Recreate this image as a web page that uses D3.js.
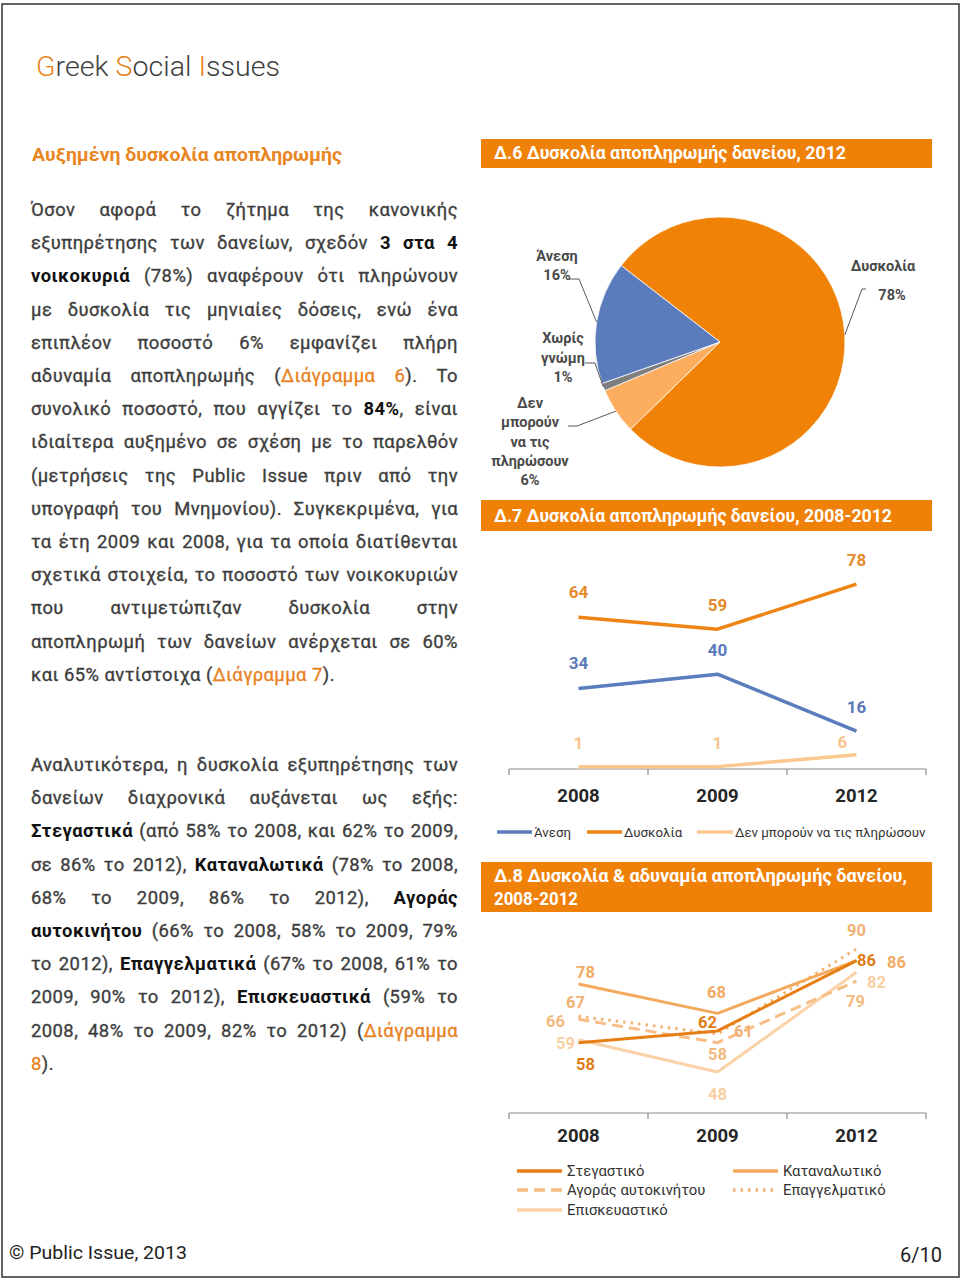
<!DOCTYPE html>
<html><head><meta charset="utf-8">
<script src="https://cdn.jsdelivr.net/npm/d3@7"></script>
<style>
body{margin:0;background:#fff}
svg{display:block}
text{font-family:Roboto,"Open Sans","Noto Sans",sans-serif}
</style>
</head><body>
<svg id="page" width="960" height="1280"></svg>
<script>
// ---------------- DATA ----------------
const pieCategories = ["Δυσκολία", "Δεν μπορούν να τις πληρώσουν", "Χωρίς γνώμη", "Άνεση"];
const pieValues = [78, 6, 1, 16];
const pieLabelLines = [["Δυσκολία", "78%"], ["Δεν", "μπορούν", "να τις", "πληρώσουν", "6%"], ["Χωρίς", "γνώμη", "1%"], ["Άνεση", "16%"]];

const years = ["2008", "2009", "2012"];
const d7Series = ["Άνεση", "Δυσκολία", "Δεν μπορούν να τις πληρώσουν"];
const d7Anesi = [34, 40, 16];
const d7Dyskolia = [64, 59, 78];
const d7DenMporoun = [1, 1, 6];

const d8Series = ["Στεγαστικό", "Καταναλωτικό", "Αγοράς αυτοκινήτου", "Επαγγελματικό", "Επισκευαστικό"];
const d8Stegastiko = [58, 62, 86];
const d8Katanalotiko = [78, 68, 86];
const d8Agoras = [66, 58, 79];
const d8Epaggelmatiko = [67, 61, 90];
const d8Episkevastiko = [59, 48, 82];

const pageTitle = ["G", "reek ", "S", "ocial ", "I", "ssues"];
const sectionTitle = "Αυξημένη δυσκολία αποπληρωμής";
const chartTitles = ["Δ.6 Δυσκολία αποπληρωμής δανείου, 2012", "Δ.7 Δυσκολία αποπληρωμής δανείου, 2008-2012", "Δ.8 Δυσκολία & αδυναμία αποπληρωμής δανείου,", "2008-2012"];
const footerLeft = "© Public Issue, 2013";
const footerRight = "6/10";

// body text (*bold*, ~orange~), second item: 1 = justified
const para1 = [
  ["Όσον αφορά το ζήτημα της κανονικής", 1],
  ["εξυπηρέτησης των δανείων, σχεδόν *3 στα 4*", 1],
  ["*νοικοκυριά* (78%) αναφέρουν ότι πληρώνουν", 1],
  ["με δυσκολία τις μηνιαίες δόσεις, ενώ ένα", 1],
  ["επιπλέον ποσοστό 6% εμφανίζει πλήρη", 1],
  ["αδυναμία αποπληρωμής (~Διάγραμμα 6~). Το", 1],
  ["συνολικό ποσοστό, που αγγίζει το *84%*, είναι", 1],
  ["ιδιαίτερα αυξημένο σε σχέση με το παρελθόν", 1],
  ["(μετρήσεις της Public Issue πριν από την", 1],
  ["υπογραφή του Μνημονίου). Συγκεκριμένα, για", 1],
  ["τα έτη 2009 και 2008, για τα οποία διατίθενται", 1],
  ["σχετικά στοιχεία, το ποσοστό των νοικοκυριών", 1],
  ["που αντιμετώπιζαν δυσκολία στην", 1],
  ["αποπληρωμή των δανείων ανέρχεται σε 60%", 1],
  ["και 65% αντίστοιχα (~Διάγραμμα 7~).", 0]
];
const para2 = [
  ["Αναλυτικότερα, η δυσκολία εξυπηρέτησης των", 1],
  ["δανείων διαχρονικά αυξάνεται ως εξής:", 1],
  ["*Στεγαστικά* (από 58% το 2008, και 62% το 2009,", 1],
  ["σε 86% το 2012), *Καταναλωτικά* (78% το 2008,", 1],
  ["68% το 2009, 86% το 2012), *Αγοράς*", 1],
  ["*αυτοκινήτου* (66% το 2008, 58% το 2009, 79%", 1],
  ["το 2012), *Επαγγελματικά* (67% το 2008, 61% το", 1],
  ["2009, 90% το 2012), *Επισκευαστικά* (59% το", 1],
  ["2008, 48% το 2009, 82% το 2012) (~Διάγραμμα~", 1],
  ["~8~).", 0]
];

// ---------------- STYLE ----------------
const ORANGE = "#ef8109";
const GRAY = "#404040";
const svg = d3.select("#page");

svg.append("rect").attr("x", 2).attr("y", 4).attr("width", 957).attr("height", 1273)
  .attr("fill", "none").attr("stroke", "#333").attr("stroke-width", 1.5);

// header
const ht = svg.append("text").attr("x", 36).attr("y", 76).attr("font-size", 27).attr("font-weight", 300)
  .attr("textLength", 244).attr("lengthAdjust", "spacingAndGlyphs");
pageTitle.forEach((s, i) => ht.append("tspan").text(s).attr("fill", i % 2 === 0 ? "#e8821e" : GRAY));

svg.append("text").attr("x", 32).attr("y", 161).attr("font-size", 18.5).attr("font-weight", 700)
  .attr("fill", "#e8861f").attr("textLength", 310).attr("lengthAdjust", "spacingAndGlyphs").text(sectionTitle);

// ---------------- BODY TEXT ----------------
function parseWords(s) {
  const words = []; let cur = []; let style = "n"; let buf = "";
  const flush = () => { if (buf) { cur.push({ t: buf, s: style }); buf = ""; } };
  for (const ch of s) {
    if (ch === "*") { flush(); style = style === "b" ? "n" : "b"; continue; }
    if (ch === "~") { flush(); style = style === "o" ? "n" : "o"; continue; }
    if (ch === " ") { flush(); if (cur.length) { words.push(cur); cur = []; } continue; }
    buf += ch;
  }
  flush(); if (cur.length) words.push(cur);
  return words;
}
const runStyle = {
  n: { fill: "#3d3d3d", w: 400, sw: 0.35 },
  b: { fill: "#111", w: 700, sw: 0 },
  o: { fill: "#e8821e", w: 400, sw: 0.35 }
};
function drawParagraph(lines, x0, x1, yc0, lh) {
  const g = svg.append("g");
  lines.forEach(([txt, just], i) => {
    const y = yc0 + i * lh + 6;
    const words = parseWords(txt);
    const nodes = words.map(runs => {
      const t = g.append("text").attr("y", y).attr("font-size", 18.4).attr("letter-spacing", 0.45);
      runs.forEach(r => t.append("tspan").text(r.t).attr("fill", runStyle[r.s].fill)
        .attr("font-weight", runStyle[r.s].w).attr("stroke", runStyle[r.s].fill).attr("stroke-width", runStyle[r.s].sw));
      return t;
    });
    const widths = nodes.map(n => n.node().getComputedTextLength());
    const total = d3.sum(widths);
    const gap = (just && nodes.length > 1) ? (x1 - x0 - total) / (nodes.length - 1) : 5;
    let x = x0;
    nodes.forEach((n, j) => { n.attr("x", x); x += widths[j] + gap; });
  });
}
drawParagraph(para1, 31, 458, 210, 33.2);
drawParagraph(para2, 31, 458, 765, 33.2);

// footer
svg.append("text").attr("x", 9).attr("y", 1259).attr("font-size", 19).attr("fill", "#222")
  .attr("textLength", 178).attr("lengthAdjust", "spacingAndGlyphs").text(footerLeft);
svg.append("text").attr("x", 942).attr("y", 1262).attr("font-size", 20).attr("text-anchor", "end").attr("fill", "#222").text(footerRight);

// ---------------- TITLE BARS ----------------
function titleBar(y, h, lines, widths, baselines) {
  svg.append("rect").attr("x", 481).attr("y", y).attr("width", 451).attr("height", h).attr("fill", ORANGE);
  lines.forEach((l, i) => svg.append("text").attr("x", 494).attr("y", baselines[i]).attr("font-size", 17.5)
    .attr("font-weight", 700).attr("fill", "#fff").attr("textLength", widths[i]).attr("lengthAdjust", "spacingAndGlyphs").text(l));
}
titleBar(139, 29, [chartTitles[0]], [352], [159]);
titleBar(500, 31, [chartTitles[1]], [398], [522]);
titleBar(862, 50, [chartTitles[2], chartTitles[3]], [413, 84], [882, 905]);

// ---------------- PIE (Δ.6) ----------------
const pieColors = ["#ef8207", "#fcad5e", "#7f7f7f", "#5b7cbc"];
const cx = 720, cy = 342, R = 125;
const start = -52.3 * Math.PI / 180;
const pie = d3.pie().sort(null).startAngle(start).endAngle(start + 2 * Math.PI);
const arcs = pie(pieValues);
const arc = d3.arc().innerRadius(0).outerRadius(R);
const edgeArc = d3.arc().innerRadius(R).outerRadius(R);
const pg = svg.append("g").attr("transform", `translate(${cx},${cy})`);
pg.selectAll("path").data(arcs).join("path").attr("d", arc)
  .attr("fill", (d, i) => pieColors[i]).attr("stroke", "#fff").attr("stroke-width", 0.8);

// label layout: line positions and leader anchor/elbow
const pieLabelLayout = [
  { x: [883, 892], y0: 266, lh: 29, anchor: [866, 289], elbow: [862, 289] },
  { x: [530], y0: 403, lh: 19.3, anchor: [568, 426], elbow: [577, 426] },
  { x: [563], y0: 338, lh: 19.5, anchor: [585, 363], elbow: [595, 363] },
  { x: [557], y0: 256, lh: 19, anchor: [569, 279], elbow: [579, 279] }
];
arcs.forEach((a, i) => {
  const L = pieLabelLayout[i];
  const e = edgeArc.centroid(a);
  svg.append("polyline").attr("points", [L.anchor, L.elbow, [cx + e[0], cy + e[1]]].map(p => p.join(",")).join(" "))
    .attr("fill", "none").attr("stroke", "#595959").attr("stroke-width", 1);
  pieLabelLines[i].forEach((s, k) => {
    svg.append("text").attr("x", L.x[Math.min(k, L.x.length - 1)]).attr("y", L.y0 + k * L.lh + 5)
      .attr("text-anchor", "middle").attr("font-size", 14.5).attr("font-weight", 700).attr("fill", "#4a4a4a").text(s);
  });
});

// ---------------- AXIS helper ----------------
function drawXAxis(x0, x1, y, labelY) {
  const band = d3.scaleBand().domain(years).range([x0, x1]);
  const pt = d3.scalePoint().domain(years).range([x0, x1]).padding(0.5);
  const g = svg.append("g");
  g.append("line").attr("x1", x0).attr("x2", x1).attr("y1", y).attr("y2", y).attr("stroke", "#8c8c8c").attr("stroke-width", 1.2);
  const edges = years.map(d => band(d)).concat([x1]);
  g.selectAll("line.t").data(edges).join("line").attr("class", "t")
    .attr("x1", d => d).attr("x2", d => d).attr("y1", y).attr("y2", y + 6).attr("stroke", "#8c8c8c").attr("stroke-width", 1.2);
  g.selectAll("text").data(years).join("text").attr("x", d => pt(d)).attr("y", labelY)
    .attr("text-anchor", "middle").attr("font-size", 18.5).attr("font-weight", 700).attr("fill", "#262626").text(d => d);
  return pt;
}

// ---------------- LINE CHART Δ.7 ----------------
const x7 = drawXAxis(509, 926, 769, 802);
const y7 = d3.scaleLinear().domain([0, 100]).range([769, 532]);
const d7Data = [d7Anesi, d7Dyskolia, d7DenMporoun];
const d7Colors = ["#5a7dbd", "#ee8414", "#fbc890"];
const d7LabelColors = ["#5b7bb8", "#e48a2c", "#f9c48d"];
const d7LabelOffsets = [[[0, -25], [0, -24], [0, -24]], [[0, -25], [0, -24], [0, -24]], [[0, -24], [0, -24], [-14, -13]]];
const line7 = d3.line().x((d, i) => x7(years[i])).y(d => y7(d));
[2, 0, 1].forEach(s => {
  svg.append("path").attr("d", line7(d7Data[s])).attr("fill", "none").attr("stroke", d7Colors[s])
    .attr("stroke-width", 3.5).attr("stroke-linejoin", "round");
});
d7Data.forEach((arr, s) => arr.forEach((v, i) => {
  const o = d7LabelOffsets[s][i];
  svg.append("text").attr("x", x7(years[i]) + o[0]).attr("y", y7(v) + o[1] + 6)
    .attr("text-anchor", "middle").attr("font-size", 17).attr("font-weight", 700).attr("fill", d7LabelColors[s]).text(v);
}));
// legend Δ.7
const leg7 = [[497, 534], [587, 624], [697, 735]];
d7Series.forEach((n, s) => {
  svg.append("line").attr("x1", leg7[s][0]).attr("x2", leg7[s][1] - 2).attr("y1", 832).attr("y2", 832)
    .attr("stroke", d7Colors[s]).attr("stroke-width", 3.5);
  svg.append("text").attr("x", leg7[s][1]).attr("y", 837).attr("font-size", 13.3).attr("fill", "#333").text(n);
});

// ---------------- LINE CHART Δ.8 ----------------
const x8 = drawXAxis(509, 926, 1113, 1142);
const y8 = d3.scaleLinear().domain([30, 100]).range([1124.7, 919.6]);
const d8Data = [d8Stegastiko, d8Katanalotiko, d8Agoras, d8Epaggelmatiko, d8Episkevastiko];
const d8Colors = ["#e57e15", "#f4aa5e", "#f6be86", "#f2b272", "#fbd2a8"];
const d8LabelColors = ["#e07c14", "#f1ab62", "#f3ba80", "#f0b274", "#f9cfa3"];
const d8Dash = [null, null, "11,6", "2.5,5", null];
const d8LabelOffsets = [
  [[7, 21], [-10, -9], [10, -1]],
  [[7, -12], [-1, -21], [40, 1]],
  [[-23, 2], [0, 11], [-1, 20]],
  [[-3, -14], [26, -3], [0, -19]],
  [[-13, 3], [0, 22], [20, 10]]
];
const line8 = d3.line().x((d, i) => x8(years[i])).y(d => y8(d));
[4, 3, 2, 1, 0].forEach(s => {
  svg.append("path").attr("d", line8(d8Data[s])).attr("fill", "none").attr("stroke", d8Colors[s])
    .attr("stroke-width", 3).attr("stroke-linejoin", "round").attr("stroke-dasharray", d8Dash[s]);
});
[4, 3, 2, 1, 0].forEach(s => d8Data[s].forEach((v, i) => {
  const o = d8LabelOffsets[s][i];
  svg.append("text").attr("x", x8(years[i]) + o[0]).attr("y", y8(v) + o[1] + 6)
    .attr("text-anchor", "middle").attr("font-size", 16.5).attr("font-weight", 700).attr("fill", d8LabelColors[s]).text(v);
}));
// legend Δ.8
const leg8 = [[517, 1171], [733, 1171], [517, 1190], [733, 1190], [517, 1210]];
d8Series.forEach((n, s) => {
  const [lx, ly] = leg8[s];
  svg.append("line").attr("x1", lx).attr("x2", lx + 45).attr("y1", ly).attr("y2", ly)
    .attr("stroke", d8Colors[s]).attr("stroke-width", 3.5).attr("stroke-dasharray", d8Dash[s]);
  svg.append("text").attr("x", lx + 50).attr("y", ly + 5).attr("font-size", 14.8).attr("fill", "#333").text(n);
});
</script>
</body></html>
